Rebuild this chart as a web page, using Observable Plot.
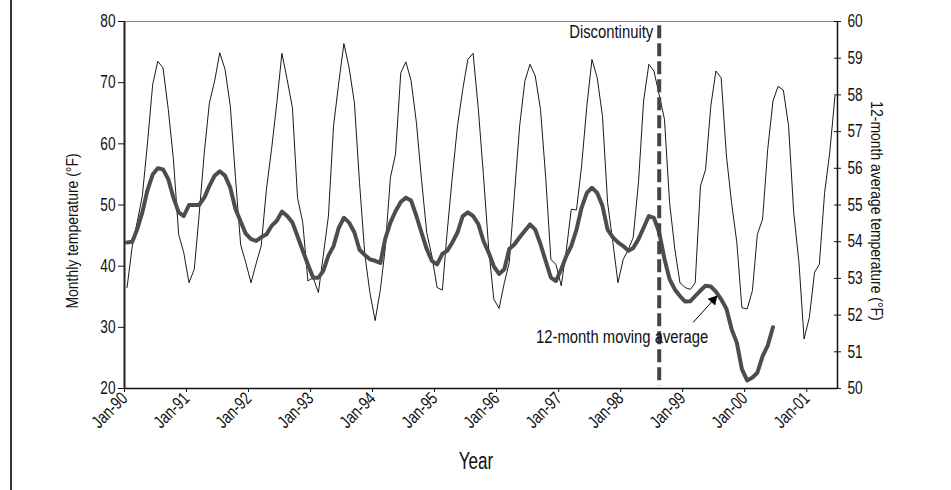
<!DOCTYPE html>
<html><head><meta charset="utf-8">
<script src="https://cdn.jsdelivr.net/npm/d3@7"></script>
<script src="https://cdn.jsdelivr.net/npm/@observablehq/plot@0.6"></script>
<style>
body{margin:0;background:#fff;}
#wrap{position:relative;width:951px;height:490px;overflow:hidden;}
#border{position:absolute;left:10px;top:0;width:2px;height:490px;background:#333;}
#chart{position:absolute;left:0;top:0;}
</style></head><body><div id="wrap"><div id="border"></div><div id="chart"></div></div>
<script>
// Monthly temperature (°F), Jan-1990 .. Jun-2001
const monthlyTemp = [
  36.5,43.3,47.1,51.5,60.0,69.7,73.5,72.4,65.6,57.5,45.2,42.2,
  37.3,39.5,48.2,58.6,66.7,70.3,74.9,72.2,66.2,54.7,43.5,40.6,
  37.3,40.5,43.3,52.6,59.1,66.7,74.8,70.5,65.9,51.2,47.1,37.6,
  38.1,35.7,41.6,48.2,62.9,70.0,76.4,72.4,66.7,53.7,42.0,35.7,
  31.1,36.2,42.8,54.5,58.3,71.6,73.4,70.3,63.5,54.2,45.5,41.7,
  36.5,36.1,45.5,54.7,62.9,68.9,73.8,74.8,65.6,54.8,42.8,34.6,
  33.1,37.3,40.6,52.0,62.9,70.3,73.0,71.1,65.6,54.7,41.1,40.3,
  36.8,42.8,49.3,49.2,56.4,66.2,73.8,70.8,64.5,50.4,43.9,37.3,
  41.1,42.8,44.7,53.7,67.0,73.0,71.9,68.0,64.0,50.4,42.8,37.3,
  36.5,36.2,37.3,53.1,55.8,66.2,71.9,70.8,58.0,50.4,43.9,33.2,
  33.0,36.0,45.2,47.7,59.1,67.0,69.4,68.8,62.9,48.8,40.6,28.1,
  31.6,39.0,40.3,52.0,58.5,67.8
];
// 12-month moving average (°F, right axis), Jan-1990 .. Jun-2000
const movingAvg = [
  53.98,54.00,54.33,54.80,55.40,55.83,56.00,55.97,55.70,55.20,54.80,54.70,
  55.00,55.00,55.00,55.20,55.52,55.80,55.92,55.80,55.47,54.90,54.55,54.22,
  54.07,54.02,54.12,54.20,54.43,54.57,54.82,54.70,54.52,54.15,53.75,53.38,
  53.02,53.02,53.20,53.62,53.88,54.38,54.65,54.52,54.25,53.78,53.64,53.52,
  53.48,53.42,54.07,54.52,54.83,55.08,55.20,55.12,54.70,54.25,53.80,53.48,
  53.38,53.67,53.75,53.98,54.25,54.70,54.80,54.70,54.48,54.02,53.70,53.33,
  53.12,53.25,53.80,53.93,54.12,54.30,54.47,54.33,53.93,53.48,53.02,52.93,
  53.25,53.62,53.88,54.33,54.93,55.33,55.47,55.33,54.97,54.33,54.12,53.98,
  53.88,53.75,53.83,54.07,54.38,54.70,54.65,54.25,53.53,52.98,52.70,52.52,
  52.37,52.38,52.52,52.67,52.80,52.78,52.64,52.43,52.17,51.62,51.25,50.53,
  50.22,50.30,50.43,50.88,51.17,51.67
];
const yearTickYears = [1990,1991,1992,1993,1994,1995,1996,1997,1998,1999,2000,2001];
const leftTicks = [20,30,40,50,60,70,80];
const rightTicks = [50,51,52,53,54,55,56,57,58,59,60];
const discontinuityLabel = "Discontinuity";
const maLabel = "12-month moving average";
const leftTitle = "Monthly temperature (°F)";
const rightTitle = "12-month average temperature (°F)";
const xTitle = "Year";

const monthDate = i => new Date(Date.UTC(1990, i, 16));
const xStart = new Date(Date.UTC(1990, 0, 1));
const xEnd = new Date(Date.UTC(2001, 6, 1));
const toLeft = d3.scaleLinear([50, 60], [20, 80]);
const toRight = toLeft.invert;

const monthlyData = monthlyTemp.map((v, i) => ({date: monthDate(i), v}));
const maData = movingAvg.map((v, i) => ({date: monthDate(i), v: toLeft(v)}));
const yearTicks = yearTickYears.map(y => new Date(Date.UTC(y, 0, 1)));
const discDate = new Date(Date.UTC(1998, 7, 16));
const maLabelDate = new Date(Date.UTC(1996, 7, 21));
const arrowStart = {date: new Date(Date.UTC(1999, 2, 4)), v: 30.8};
const arrowHead = {date: new Date(Date.UTC(1999, 6, 1)), v: 34.47};

const font = '"Liberation Sans", Arial, sans-serif';

const chart = Plot.plot({
  width: 951,
  height: 490,
  marginLeft: 124,
  marginRight: 114,
  marginTop: 21,
  marginBottom: 102,
  style: {fontFamily: font, fontSize: "17px", color: "#111", background: "transparent"},
  x: {type: "utc", domain: [xStart, xEnd]},
  y: {domain: [20, 80]},
  marks: [
    Plot.ruleY([80], {stroke: "#888", strokeWidth: 1}),
    Plot.line(monthlyData, {x: "date", y: "v", stroke: "#000", strokeWidth: 0.9}),
    Plot.line(maData, {x: "date", y: "v", stroke: "#4d4d4d", strokeWidth: 4, strokeLinejoin: "round", strokeLinecap: "round"}),
    Plot.ruleX([discDate], {y1: 79.3, y2: 20.4, stroke: "#444", strokeWidth: 4, strokeDasharray: "13,5"}),
    Plot.ruleY([20], {stroke: "#111", strokeWidth: 1.5}),
    Plot.ruleX([xStart], {stroke: "#222", strokeWidth: 2}),
    Plot.ruleX([xEnd], {stroke: "#111", strokeWidth: 1.5}),
    Plot.ruleY(rightTicks.map(toLeft), {x1: () => xEnd, x2: () => xEnd, insetLeft: -3, insetRight: -4, stroke: "#111"}),
    Plot.axisX({ticks: yearTicks, tickFormat: d3.utcFormat("%b-%y"), tickRotate: -45, tickSize: 4, tickPadding: 3, label: null, fontSize: 18}),
    Plot.axisY({ticks: leftTicks, tickSize: 6, tickPadding: 3, label: null, fontSize: 18}),
    Plot.axisY({anchor: "right", ticks: rightTicks.map(toLeft), tickFormat: d => String(Math.round(toRight(d))), tickSize: 0, tickPadding: 10, label: null, fontSize: 18}),
    Plot.text([leftTitle], {frameAnchor: "left", textAnchor: "middle", dx: -52, dy: 26, rotate: -90, fontSize: 17}),
    Plot.text([rightTitle], {frameAnchor: "right", textAnchor: "middle", dx: 39, dy: 6, rotate: 90, fontSize: 17}),
    Plot.text([xTitle], {frameAnchor: "bottom", textAnchor: "middle", dx: -5, dy: 80, fontSize: 23}),
    Plot.text([discontinuityLabel], {x: () => discDate, y: 78.3, dx: -6, textAnchor: "end", fontSize: 19}),
    Plot.text([maLabel], {x: () => maLabelDate, y: 28.5, textAnchor: "start", fontSize: 19}),
    Plot.link([{a: arrowStart, b: arrowHead}], {x1: d => d.a.date, y1: d => d.a.v, x2: d => d.b.date, y2: d => d.b.v, stroke: "#000", strokeWidth: 1}),
    Plot.dot([arrowHead], {x: "date", y: "v", symbol: "triangle", r: 3.8, fill: "#000", stroke: "none", rotate: 42})
  ]
});
document.getElementById("chart").appendChild(chart);
// condense glyphs to a narrow face (the original uses a condensed sans)
const squeeze = {17: 0.82, 18: 0.76, 19: 0.78, 23: 0.74};
chart.querySelectorAll("text").forEach(t => {
  const len = t.getComputedTextLength();
  const fs = Math.round(parseFloat(getComputedStyle(t).fontSize));
  const f = squeeze[fs] || 0.8;
  if (len > 0) {
    t.setAttribute("textLength", (len * f).toFixed(2));
    t.setAttribute("lengthAdjust", "spacingAndGlyphs");
  }
});
</script>
</body></html>
